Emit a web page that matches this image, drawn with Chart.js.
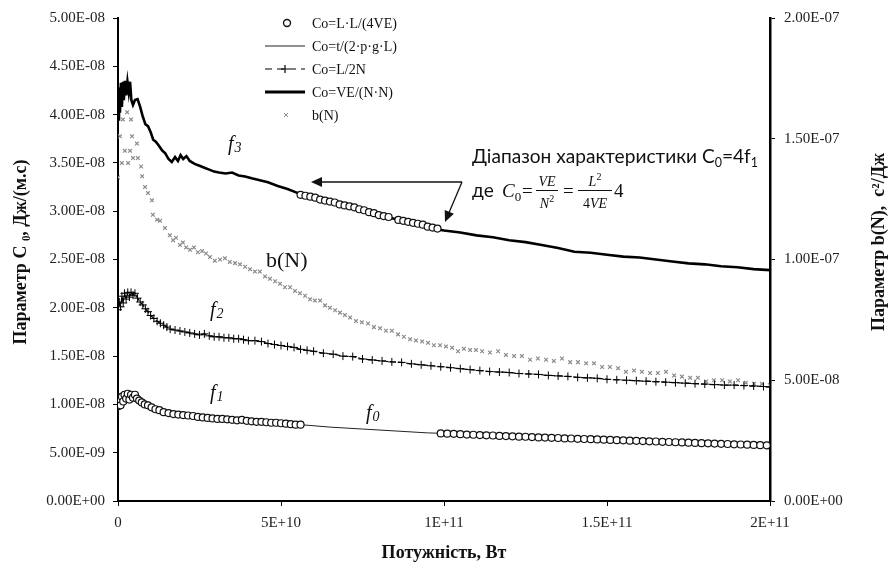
<!DOCTYPE html>
<html lang="uk">
<head>
<meta charset="utf-8">
<title>Параметр C0 та b(N)</title>
<script src="https://cdn.jsdelivr.net/npm/chart.js@4.4.1/dist/chart.umd.min.js"></script>
<style>
  html, body { margin: 0; padding: 0; background: #fff; }
  #wrap { width: 891px; height: 570px; position: relative; }
</style>
</head>
<body>
<div id="wrap"><canvas id="c0-chart"></canvas></div>
<script>
// Units: power in GW (x1e9 W), C0 in 1e-9 J/(m.s), b(N) in 1e-8 s2/J

// Co=L·L/(4VE) circles, f1 part before the range
const lowPower = [0, 0.4, 0.8, 1.2, 1.6, 2.0, 2.5, 3.0, 3.5, 4.0, 4.6, 5.2, 5.8, 6.5, 7.3, 8.2, 9.2, 10.3, 11.5, 12.7,
    14.0, 15.5, 17.0, 18.5, 20.0, 21.5, 23.0, 24.5, 26.0, 27.5, 29.0, 30.5, 32.0, 33.5, 35.0, 36.5, 38.0, 39.5, 41.0, 42.5,
    44.0, 45.5, 47.0, 48.5, 50.0, 51.5, 53.0, 54.5, 56.0];
const lowC0 = [9.8, 10.4, 9.9, 10.8, 10.3, 11.0, 10.6, 11.1, 10.5, 11.0, 10.7, 11.0, 10.6, 10.4, 10.2, 10.0, 9.9, 9.7, 9.5, 9.4,
    9.2, 9.1, 9.0, 8.95, 8.9, 8.85, 8.8, 8.7, 8.65, 8.6, 8.55, 8.5, 8.5, 8.45, 8.4, 8.35, 8.4, 8.3, 8.25, 8.2,
    8.2, 8.15, 8.1, 8.1, 8.05, 8.0, 7.95, 7.9, 7.9];
// 4·f1 inside the marked range (lies on f3)
const rangePower = [56, 57.5, 59, 60.5, 62, 63.5, 65, 66.5, 68, 69.5, 71, 72.5, 74, 75.5, 77, 78.5, 80, 81.5, 83,
    86, 87.5, 89, 90.5, 92, 93.5, 95, 96.5, 98];
const rangeC0 = [31.7, 31.6, 31.5, 31.4, 31.2, 31.1, 31.0, 30.9, 30.7, 30.6, 30.5, 30.4, 30.2, 30.1, 29.9, 29.8, 29.6, 29.5, 29.4,
    29.1, 29.0, 28.9, 28.8, 28.7, 28.6, 28.4, 28.3, 28.2];
// f1 after the range
const highPower = [99, 101, 103, 105, 107, 109, 111, 113, 115, 117, 119, 121, 123, 125, 127, 129, 131, 133, 135, 137,
    139, 141, 143, 145, 147, 149, 151, 153, 155, 157, 159, 161, 163, 165, 167, 169, 171, 173, 175, 177,
    179, 181, 183, 185, 187, 189, 191, 193, 195, 197, 199];
const highC0 = [7.0, 6.97, 6.95, 6.92, 6.88, 6.86, 6.82, 6.8, 6.78, 6.74, 6.72, 6.7, 6.66, 6.65, 6.62, 6.58, 6.57, 6.54, 6.52, 6.48,
    6.47, 6.44, 6.42, 6.4, 6.37, 6.35, 6.32, 6.3, 6.28, 6.25, 6.23, 6.2, 6.18, 6.16, 6.13, 6.11, 6.08, 6.06, 6.04, 6.01,
    5.99, 5.97, 5.94, 5.92, 5.9, 5.87, 5.85, 5.83, 5.8, 5.78, 5.76];

// Co=t/(2·p·g·L), thin line (f0)
const thinPower = [0, 1.5, 3, 4.5, 6, 8, 10, 13, 16, 20, 25, 30, 40, 50, 56, 65, 75, 85, 95, 100, 120, 140, 160, 180, 200];
const thinC0 = [9.8, 10.6, 10.9, 10.8, 10.5, 10.2, 9.8, 9.4, 9.1, 8.9, 8.75, 8.55, 8.3, 8.05, 7.9, 7.65, 7.45, 7.25, 7.05, 7.0,
    6.7, 6.45, 6.2, 5.97, 5.75];

// Co=L/2N (f2)
const halfPower = [0, 0.4, 0.8, 1.2, 1.6, 2.0, 2.5, 3.0, 3.5, 4.0, 4.6, 5.2, 6.0, 6.8, 7.6, 8.4, 9.2, 10, 11, 12,
    13, 14, 15, 16, 17.5, 19, 20.5, 22, 23.5, 25, 26.5, 28, 29.5, 31, 32.5, 34, 35.5, 37, 38.5, 40,
    42, 44, 46, 48, 50, 52, 54, 56, 58, 60, 63, 66, 69, 72, 75, 78, 81, 84, 87, 90,
    93, 96, 99, 102, 105, 108, 111, 114, 117, 120, 123, 126, 129, 132, 135, 138, 141, 144, 147, 150,
    153, 156, 159, 162, 165, 168, 171, 174, 177, 180, 183, 186, 189, 192, 195, 198, 200];
const halfC0 = [19.8, 20.6, 20.1, 21.2, 20.5, 21.5, 20.9, 21.6, 21.1, 21.6, 21.3, 21.5, 21.0, 20.6, 20.3, 19.9, 19.6, 19.2, 18.9, 18.6,
    18.4, 18.2, 18.0, 17.8, 17.7, 17.6, 17.5, 17.4, 17.3, 17.2, 17.3, 17.1, 17.0, 17.0, 16.9, 16.9, 16.8, 16.8, 16.7, 16.6,
    16.6, 16.5, 16.3, 16.2, 16.1, 16.0, 15.9, 15.7, 15.6, 15.5, 15.3, 15.2, 15.0, 14.95, 14.7, 14.6, 14.5, 14.4, 14.35, 14.2,
    14.1, 14.0, 13.9, 13.8, 13.7, 13.6, 13.5, 13.4, 13.35, 13.3, 13.2, 13.15, 13.1, 13.0, 12.95, 12.9, 12.8, 12.75, 12.7, 12.6,
    12.55, 12.5, 12.45, 12.4, 12.35, 12.3, 12.25, 12.2, 12.15, 12.1, 12.05, 12.0, 12.0, 11.95, 11.9, 11.85, 11.8];

// Co=VE/(N·N) thick line (f3)
const vePower = [0, 0.3, 0.6, 0.9, 1.2, 1.5, 1.8, 2.1, 2.5, 2.9, 3.3, 3.7, 4.1, 4.6, 5.2, 6.0, 6.8, 7.6, 8.4, 9.2,
    10.0, 10.8, 11.6, 12.5, 13.5, 14.5, 15.5, 16.5, 17.5, 18.4, 19.2, 20.0, 21.0, 22.0, 23.5, 25.0, 26.5, 28.0, 29.5, 31.0,
    33.0, 35.0, 37.0, 39.0, 41.0, 43.5, 46.0, 49.0, 52.0, 55.0, 58.0, 62.0, 66.0, 70.0, 75.0, 80.0, 85.0, 90.0, 95.0, 100,
    105, 110, 115, 120, 125, 130, 135, 140, 145, 150, 155, 160, 165, 170, 175, 180, 185, 190, 195, 200];
const veC0 = [39.5, 42.8, 40.2, 43.3, 40.8, 43.4, 41.5, 43.5, 42.0, 43.4, 42.3, 43.4, 41.5, 41.0, 41.5, 41.6, 40.8, 39.8, 39.0, 38.8,
    38.2, 37.4, 37.2, 36.8, 36.3, 36.0, 35.4, 35.1, 35.6, 35.2, 35.8, 35.4, 35.7, 35.2, 34.9, 34.7, 34.5, 34.3, 34.1, 34.0,
    33.9, 34.0, 33.7, 33.6, 33.4, 33.2, 33.0, 32.6, 32.3, 31.9, 31.6, 31.2, 30.9, 30.5, 30.1, 29.6, 29.2, 28.8, 28.3, 28.0,
    27.8, 27.5, 27.3, 27.0, 26.8, 26.5, 26.2, 25.8, 25.7, 25.5, 25.3, 25.2, 25.0, 24.8, 24.6, 24.5, 24.3, 24.2, 24.0, 23.9];

// b(N), right axis
const bPower = [0, 0.6, 1.2, 1.5, 2.1, 2.8, 3.1, 3.7, 4.0, 4.3, 4.6, 5.8, 6.1, 7.1, 7.4, 8.3, 9.2, 10.4, 10.7, 12.0,
    12.9, 14.4, 15.9, 16.9, 17.8, 19.0, 19.9, 20.9, 22.1, 23.3, 24.5, 25.8, 27.0, 28.2, 29.7, 31.3, 32.8, 34.3, 35.9, 37.4,
    39.0, 40.5, 42.0, 43.5, 45.1, 46.6, 48.2, 49.7, 51.2, 52.8, 54.3, 55.8, 57.4, 58.9, 60.4, 62.0, 63.5, 65.0, 66.6, 68.1,
    69.6, 71.2, 73.0, 74.8, 76.7, 78.5, 80.4, 82.2, 84.0, 85.9, 87.7, 89.6, 91.4, 93.3, 95.1, 96.9, 98.8, 100.6, 102.5, 104.3,
    106.1, 108.0, 109.8, 111.7, 114.1, 116.6, 119.0, 121.5, 123.9, 126.4, 128.8, 131.3, 133.7, 136.2, 138.7, 141.1, 143.6, 146.0, 148.5, 150.9,
    153.4, 155.8, 158.3, 160.7, 163.2, 165.6, 168.1, 170.6, 173.0, 175.5, 177.9, 180.4, 182.8, 185.3, 187.7, 190.2, 192.6, 195.1, 197.5, 200];
const bValue = [13.4, 15.1, 14.0, 15.8, 14.5, 16.1, 14.0, 14.5, 15.8, 15.1, 14.2, 14.8, 14.2, 13.85, 13.45, 13.0, 12.75, 12.45, 11.85, 11.65,
    11.6, 11.3, 11.0, 10.8, 10.9, 10.6, 10.7, 10.5, 10.4, 10.5, 10.3, 10.35, 10.25, 10.1, 9.95, 10.0, 10.05, 9.9, 9.85, 9.8,
    9.7, 9.6, 9.5, 9.5, 9.3, 9.2, 9.1, 9.0, 8.85, 8.85, 8.7, 8.6, 8.5, 8.35, 8.3, 8.3, 8.1, 8.0, 7.9, 7.8,
    7.7, 7.6, 7.45, 7.4, 7.35, 7.2, 7.15, 7.05, 7.05, 6.9, 6.8, 6.7, 6.65, 6.6, 6.55, 6.45, 6.45, 6.4, 6.35, 6.2,
    6.3, 6.25, 6.25, 6.2, 6.15, 6.2, 6.05, 6.0, 6.0, 5.85, 5.9, 5.85, 5.8, 5.9, 5.75, 5.75, 5.7, 5.7, 5.55, 5.55,
    5.5, 5.35, 5.4, 5.35, 5.3, 5.3, 5.35, 5.2, 5.15, 5.1, 5.1, 4.95, 5.0, 5.0, 4.95, 5.0, 4.9, 4.85, 4.85, 4.8];

const seriesLabels = ['Co=L·L/(4VE)', 'Co=t/(2·p·g·L)', 'Co=L/2N', 'Co=VE/(N·N)', 'b(N)'];

document.addEventListener('DOMContentLoaded', () => {
    const canvas = document.getElementById('c0-chart');
    const serif = "'Liberation Serif', 'Times New Roman', serif";

    function toPoints(xs, ys) {
        return xs.map((x, i) => ({ x: x, y: ys[i] }));
    }

    // Excel-like scientific labels: 5.00E-08, 1.5E+11
    function excelExp(v, digits) {
        if (v === 0 && digits === undefined) return '0';
        const s = digits === undefined ? v.toExponential() : v.toExponential(digits);
        const parts = s.split('e');
        const sign = parts[1][0] === '-' ? '-' : '+';
        const num = parts[1].replace(/[+-]/, '').padStart(2, '0');
        return parts[0] + 'E' + sign + num;
    }

    const circlePoints = toPoints(lowPower, lowC0)
        .concat(toPoints(rangePower, rangeC0))
        .concat(toPoints(highPower, highC0));

    // --- Drawing helpers for the overlay ---
    function arrow(ctx, x1, y1, x2, y2) {
        const ang = Math.atan2(y2 - y1, x2 - x1);
        const len = 11, half = 5;
        ctx.beginPath();
        ctx.moveTo(x1, y1);
        ctx.lineTo(x2 - Math.cos(ang) * len * 0.8, y2 - Math.sin(ang) * len * 0.8);
        ctx.stroke();
        ctx.beginPath();
        ctx.moveTo(x2, y2);
        ctx.lineTo(x2 - Math.cos(ang) * len - Math.sin(ang) * half, y2 - Math.sin(ang) * len + Math.cos(ang) * half);
        ctx.lineTo(x2 - Math.cos(ang) * len + Math.sin(ang) * half, y2 - Math.sin(ang) * len - Math.cos(ang) * half);
        ctx.closePath();
        ctx.fill();
    }

    function fLabel(ctx, digit, x, y) {
        ctx.font = 'italic 20px ' + serif;
        ctx.fillText('f', x, y);
        const w = ctx.measureText('f').width;
        ctx.font = 'italic 14px ' + serif;
        ctx.fillText(digit, x + w + 1, y + 2);
    }

    function runWidth(ctx, pieces) {
        let w = 0;
        pieces.forEach(p => { ctx.font = p.font; w += ctx.measureText(p.t).width; });
        return w;
    }

    function drawRun(ctx, pieces, x, y) {
        pieces.forEach(p => {
            ctx.font = p.font;
            ctx.fillText(p.t, x, y + (p.dy || 0));
            x += ctx.measureText(p.t).width;
        });
        return x;
    }

    function centered(ctx, pieces, cx, y) {
        const w = runWidth(ctx, pieces);
        drawRun(ctx, pieces, cx - w / 2, y);
    }

    const overlayPlugin = {
        id: 'overlay',
        afterDraw(chart) {
            const ctx = chart.ctx;
            ctx.save();
            ctx.fillStyle = '#111';
            ctx.strokeStyle = '#111';
            ctx.textBaseline = 'alphabetic';
            ctx.textAlign = 'left';

            // axis titles
            ctx.save();
            ctx.translate(21, 252);
            ctx.rotate(-Math.PI / 2);
            ctx.textAlign = 'center';
            ctx.textBaseline = 'middle';
            ctx.font = 'bold 18px ' + serif;
            ctx.fillText('Параметр C ₀, Дж/(м.с)', 0, 0);
            ctx.restore();

            ctx.save();
            ctx.translate(879, 242);
            ctx.rotate(-Math.PI / 2);
            ctx.textAlign = 'center';
            ctx.textBaseline = 'middle';
            ctx.font = 'bold 18px ' + serif;
            ctx.fillText('Параметр b(N),  с²/Дж', 0, 0);
            ctx.restore();

            ctx.save();
            ctx.textAlign = 'center';
            ctx.textBaseline = 'middle';
            ctx.font = 'bold 18px ' + serif;
            ctx.fillText('Потужність, Вт', 444, 553);
            ctx.restore();

            // legend, drawn inside the plot like the original
            const ds = chart.data.datasets;
            const rows = [23, 46, 69, 92, 115];
            ctx.font = '14px ' + serif;
            ctx.textBaseline = 'middle';
            ds.forEach((d, i) => {
                const y = rows[i];
                ctx.save();
                if (i === 0) {
                    ctx.beginPath();
                    ctx.arc(287, y, 3.5, 0, Math.PI * 2);
                    ctx.fillStyle = '#fff';
                    ctx.fill();
                    ctx.lineWidth = 1.4;
                    ctx.strokeStyle = '#111';
                    ctx.stroke();
                } else if (i === 4) {
                    ctx.strokeStyle = d.pointBorderColor;
                    ctx.lineWidth = 1;
                    ctx.beginPath();
                    ctx.moveTo(284, y - 2); ctx.lineTo(288, y + 2);
                    ctx.moveTo(284, y + 2); ctx.lineTo(288, y - 2);
                    ctx.stroke();
                } else {
                    ctx.strokeStyle = d.borderColor;
                    ctx.lineWidth = i === 3 ? 3 : 1.2;
                    if (i === 2) ctx.setLineDash([7, 5]);
                    ctx.beginPath();
                    ctx.moveTo(265, y); ctx.lineTo(305, y);
                    ctx.stroke();
                    if (i === 2) {
                        ctx.setLineDash([]);
                        ctx.beginPath();
                        ctx.moveTo(285, y - 4); ctx.lineTo(285, y + 4);
                        ctx.moveTo(281, y); ctx.lineTo(289, y);
                        ctx.stroke();
                    }
                }
                ctx.restore();
                ctx.fillText(d.label, 312, y + 1);
            });
            ctx.textBaseline = 'alphabetic';

            // curve labels
            fLabel(ctx, '3', 228, 150);
            fLabel(ctx, '2', 210, 316);
            fLabel(ctx, '1', 210, 399);
            fLabel(ctx, '0', 366, 419);
            ctx.font = '22px ' + serif;
            ctx.fillText('b(N)', 266, 267);

            // range note
            const base = 18;
            const line1 = s => [
                { t: 'Діапазон характеристики C', font: s + 'px Lato' },
                { t: '0', font: (s * 0.65) + 'px Lato', dy: 4 },
                { t: '=4f', font: s + 'px Lato' },
                { t: '1', font: (s * 0.65) + 'px Lato', dy: 4 }
            ];
            const size = base * 286 / runWidth(ctx, line1(base));
            drawRun(ctx, line1(size), 472, 163);
            ctx.font = size + 'px Lato';
            ctx.fillText('де', 472, 197);

            drawRun(ctx, [
                { t: 'C', font: 'italic 19px ' + serif },
                { t: '0', font: '13px ' + serif, dy: 4 }
            ], 502, 197);
            ctx.font = '19px ' + serif;
            ctx.fillText('=', 522, 197);
            ctx.fillText('=', 563, 197);
            ctx.fillText('4', 614, 197);
            ctx.lineWidth = 1;
            ctx.beginPath();
            ctx.moveTo(536, 190.5); ctx.lineTo(558, 190.5);
            ctx.moveTo(578, 190.5); ctx.lineTo(612, 190.5);
            ctx.stroke();
            centered(ctx, [{ t: 'VE', font: 'italic 14px ' + serif }], 547, 186);
            centered(ctx, [
                { t: 'N', font: 'italic 14px ' + serif },
                { t: '2', font: '10px ' + serif, dy: -6 }
            ], 547, 208);
            centered(ctx, [
                { t: 'L', font: 'italic 14px ' + serif },
                { t: '2', font: '10px ' + serif, dy: -6 }
            ], 595, 186);
            centered(ctx, [
                { t: '4', font: '14px ' + serif },
                { t: 'VE', font: 'italic 14px ' + serif }
            ], 595, 208);

            // arrows pointing to the range
            ctx.lineWidth = 1.3;
            arrow(ctx, 462, 182, 311, 182);
            arrow(ctx, 462, 182, 445, 222);

            ctx.restore();
        }
    };

    const tickFont = { family: serif, size: 15 };

    new Chart(canvas, {
        type: 'line',
        data: {
            datasets: [
                {
                    label: seriesLabels[0],
                    data: circlePoints,
                    showLine: false,
                    pointStyle: 'circle',
                    pointRadius: 3.5,
                    pointBorderWidth: 1.2,
                    pointBorderColor: '#111',
                    pointBackgroundColor: '#fff',
                    yAxisID: 'y'
                },
                {
                    label: seriesLabels[1],
                    data: toPoints(thinPower, thinC0),
                    borderColor: '#222',
                    borderWidth: 1,
                    pointRadius: 0,
                    yAxisID: 'y'
                },
                {
                    label: seriesLabels[2],
                    data: toPoints(halfPower, halfC0),
                    borderColor: '#000',
                    borderWidth: 1.2,
                    borderDash: [6, 2],
                    pointStyle: 'cross',
                    pointRadius: 4,
                    pointBorderWidth: 1,
                    pointBorderColor: '#000',
                    yAxisID: 'y'
                },
                {
                    label: seriesLabels[3],
                    data: toPoints(vePower, veC0),
                    borderColor: '#000',
                    borderWidth: 2.6,
                    pointRadius: 0,
                    yAxisID: 'y'
                },
                {
                    label: seriesLabels[4],
                    data: toPoints(bPower, bValue),
                    showLine: false,
                    pointStyle: 'crossRot',
                    pointRadius: 2.6,
                    pointBorderWidth: 1.2,
                    pointBorderColor: '#8c8c8c',
                    yAxisID: 'y1'
                }
            ]
        },
        options: {
            responsive: true,
            maintainAspectRatio: false,
            animation: false,
            layout: { padding: { top: 13, left: 0, right: 0, bottom: 0 } },
            plugins: {
                legend: { display: false },
                tooltip: { enabled: false }
            },
            scales: {
                x: {
                    type: 'linear',
                    min: 0,
                    max: 200,
                    ticks: {
                        stepSize: 50,
                        maxRotation: 0,
                        padding: 8,
                        color: '#222',
                        font: tickFont,
                        callback: v => excelExp(v * 1e9)
                    },
                    grid: { drawOnChartArea: false, tickLength: 5, color: '#000' },
                    border: { color: '#000', width: 2 },
                    afterFit: s => { s.height = 69; }
                },
                y: {
                    position: 'left',
                    min: 0,
                    max: 50,
                    ticks: {
                        stepSize: 5,
                        padding: 8,
                        color: '#222',
                        font: tickFont,
                        callback: v => excelExp(v * 1e-9, 2)
                    },
                    grid: { drawOnChartArea: false, tickLength: 5, color: '#000' },
                    border: { color: '#000', width: 2 },
                    afterFit: s => { s.width = 118; }
                },
                y1: {
                    position: 'right',
                    min: 0,
                    max: 20,
                    ticks: {
                        stepSize: 5,
                        padding: 9,
                        color: '#222',
                        font: tickFont,
                        callback: v => excelExp(v * 1e-8, 2)
                    },
                    grid: { drawOnChartArea: false, tickLength: 5, color: '#000' },
                    border: { color: '#000', width: 2.5 },
                    afterFit: s => { s.width = 121; }
                }
            }
        },
        plugins: [overlayPlugin]
    });
});
</script>
</body>
</html>
